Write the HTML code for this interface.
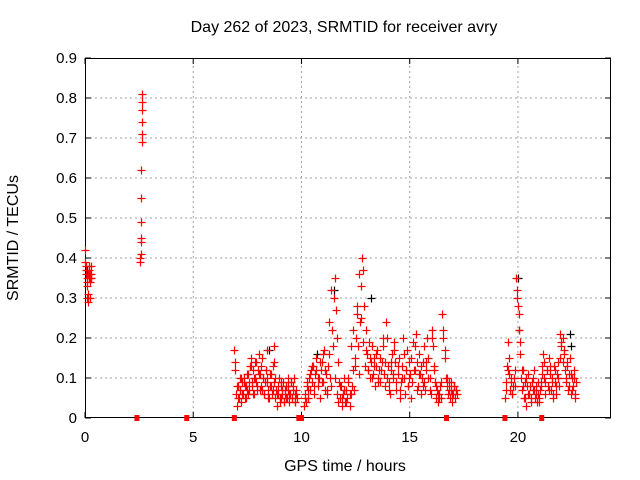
<!DOCTYPE html>
<html><head><meta charset="utf-8">
<style>
body{margin:0;background:#fff;}
svg{display:block;font-family:"Liberation Sans",sans-serif;}
</style></head>
<body>
<svg id="chart" width="640" height="480" viewBox="0 0 640 480">
<text x="344" y="32" font-size="16" text-anchor="middle">Day 262 of 2023, SRMTID for receiver avry</text>
<text x="345" y="471" font-size="16" text-anchor="middle">GPS time / hours</text>
<text transform="translate(18,238) rotate(-90)" font-size="16" text-anchor="middle">SRMTID / TECUs</text>
<g id="grid"></g>
<g id="axes"></g>
<g id="marks"></g>
</svg>
<script>
const xTicks=[0,5,10,15,20];
const yTicks=[0,0.1,0.2,0.3,0.4,0.5,0.6,0.7,0.8,0.9];
const yTickLabels=["0","0.1","0.2","0.3","0.4","0.5","0.6","0.7","0.8","0.9"];
const segStarts=[0.0,2.55,6.9,10.1,19.4,6.95,10.15,19.45];
const segEnds=[0.3,2.65,9.8,17.2,22.7,9.75,17.15,22.65];
const segA=[0.42,0.39,0.38,0.37,0.36,0.35,0.34,0.33,0.30,0.29,0.31,0.36,0.38,0.35,0.37,0.36,0.34,0.30,0.35,0.36,0.38,0.35];
const segB=[0.39,0.40,0.41,0.44,0.45,0.49,0.55,0.62,0.69,0.71,0.74,0.77,0.79,0.81];
const segC=[0.17,0.14,0.06,0.03,0.08,0.05,0.1,0.07,0.04,0.09,0.06,0.1,0.08,0.05,0.11,0.07,0.06,0.09,0.13,0.15,0.08,0.12,0.06,0.1,0.14,0.09,0.07,0.12,0.16,0.11,0.08,0.13,0.07,0.1,0.06,0.09,0.12,0.17,0.1,0.07,0.05,0.11,0.08,0.06,0.13,0.18,0.09,0.05,0.07,0.03,0.06,0.1,0.04,0.08,0.05,0.07,0.09,0.04,0.06,0.08,0.05,0.1,0.07,0.04,0.06,0.09,0.05,0.08,0.1,0.06,0.04,0.07,0.05];
const segD=[0.03,0.06,0.04,0.08,0.05,0.1,0.07,0.12,0.09,0.13,0.06,0.11,0.15,0.08,0.1,0.05,0.12,0.14,0.09,0.17,0.07,0.11,0.06,0.13,0.16,0.1,0.08,0.22,0.3,0.35,0.27,0.2,0.14,0.09,0.05,0.08,0.03,0.06,0.1,0.04,0.07,0.05,0.09,0.03,0.06,0.08,0.12,0.07,0.15,0.2,0.26,0.18,0.11,0.24,0.33,0.4,0.37,0.28,0.22,0.16,0.12,0.19,0.1,0.14,0.18,0.11,0.15,0.08,0.13,0.17,0.1,0.12,0.09,0.14,0.18,0.11,0.08,0.24,0.2,0.13,0.09,0.06,0.12,0.16,0.1,0.19,0.14,0.07,0.11,0.15,0.05,0.09,0.13,0.2,0.1,0.06,0.12,0.17,0.08,0.14,0.11,0.05,0.09,0.12,0.18,0.21,0.14,0.08,0.16,0.11,0.06,0.1,0.14,0.09,0.07,0.12,0.2,0.15,0.1,0.06,0.22,0.18,0.13,0.09,0.05,0.07,0.04,0.06,0.08,0.05,0.26,0.2,0.15,0.1,0.08,0.06,0.09,0.05,0.07,0.04,0.06,0.08,0.05,0.07,0.06];
const segE=[0.05,0.09,0.13,0.19,0.11,0.07,0.1,0.06,0.08,0.12,0.35,0.32,0.28,0.22,0.16,0.1,0.07,0.12,0.05,0.09,0.03,0.08,0.11,0.06,0.04,0.09,0.07,0.12,0.05,0.08,0.04,0.06,0.05,0.07,0.09,0.13,0.16,0.1,0.06,0.12,0.08,0.15,0.11,0.07,0.1,0.05,0.13,0.09,0.06,0.11,0.14,0.08,0.21,0.18,0.2,0.16,0.12,0.09,0.14,0.07,0.11,0.15,0.06,0.1,0.08,0.12,0.05,0.09];
const segC2=[0.12,0.08,0.05,0.07,0.1,0.06,0.09,0.05,0.08,0.11,0.07,0.13,0.09,0.06,0.1,0.14,0.08,0.11,0.07,0.15,0.1,0.06,0.12,0.09,0.05,0.08,0.11,0.07,0.14,0.1,0.06,0.08,0.05,0.09,0.06,0.04,0.07,0.05,0.08,0.06,0.09,0.05,0.07,0.04,0.06];
const segD2=[0.05,0.09,0.07,0.11,0.13,0.08,0.12,0.1,0.14,0.09,0.16,0.12,0.07,0.24,0.32,0.18,0.1,0.06,0.04,0.08,0.05,0.07,0.04,0.1,0.06,0.18,0.22,0.13,0.28,0.36,0.25,0.19,0.13,0.17,0.12,0.15,0.1,0.13,0.16,0.09,0.15,0.12,0.2,0.14,0.1,0.07,0.14,0.11,0.17,0.09,0.13,0.07,0.1,0.16,0.12,0.08,0.1,0.15,0.19,0.12,0.07,0.11,0.13,0.08,0.18,0.14,0.1,0.07,0.2,0.12,0.08,0.06,0.05,0.09,0.22,0.17,0.1,0.07,0.09,0.06,0.08,0.07];
const segE2=[0.07,0.12,0.15,0.09,0.06,0.1,0.08,0.3,0.26,0.19,0.12,0.08,0.05,0.1,0.06,0.08,0.05,0.1,0.07,0.06,0.09,0.04,0.08,0.11,0.14,0.09,0.12,0.07,0.13,0.09,0.06,0.12,0.08,0.1,0.15,0.19,0.14,0.17,0.1,0.13,0.08,0.11,0.07,0.1,0.06];
const blackTimes=[0.1,8.5,10.7,11.5,13.2,20.0,20.05,22.4,22.45];
const blackValues=[0.37,0.17,0.16,0.32,0.3,0.35,0.22,0.21,0.18];
const gapTimes=[2.4,4.7,6.9,9.88,10.0,16.7,19.4,21.1];

const X0=85,X1=611,Y0=418,Y1=58,XMAX=24.3,YMAX=0.9;
const xs=t=>X0+(X1-X0)*t/XMAX;
const ys=v=>Y0-(Y0-Y1)*v/YMAX;
const NS="http://www.w3.org/2000/svg";
function mk(tag,attrs,parent){const e=document.createElementNS(NS,tag);for(const k in attrs)e.setAttribute(k,attrs[k]);parent.appendChild(e);return e;}
const grid=document.getElementById('grid'),axes=document.getElementById('axes'),marks=document.getElementById('marks');
yTicks.forEach((v,i)=>{
  if(i>0&&i<yTicks.length-1){const g=mk('line',{x1:X0,x2:X1,y1:ys(v),y2:ys(v),stroke:'#a0a0a0','stroke-dasharray':'2,3'},grid);
  
  }
  const t=mk('text',{x:X0-8,y:ys(v)+5,'font-size':15,'text-anchor':'end'},axes);t.textContent=yTickLabels[i];
  
  
  mk('line',{x1:X0,x2:X0+6,y1:ys(v),y2:ys(v),stroke:'#000'},axes);
  mk('line',{x1:X1,x2:X1-6,y1:ys(v),y2:ys(v),stroke:'#000'},axes);
});
xTicks.forEach(v=>{
  if(v>0){const g=mk('line',{x1:xs(v),x2:xs(v),y1:Y0,y2:Y1,stroke:'#a0a0a0','stroke-dasharray':'2,3'},grid);
  
  }
  const t=mk('text',{x:xs(v),y:Y0+24,'font-size':15,'text-anchor':'middle'},axes);t.textContent=String(v);
  
  
  mk('line',{x1:xs(v),x2:xs(v),y1:Y0,y2:Y0-6,stroke:'#000'},axes);
  mk('line',{x1:xs(v),x2:xs(v),y1:Y1,y2:Y1+6,stroke:'#000'},axes);
});
const fr=mk('rect',{x:X0+0.5,y:Y1+0.5,width:X1-X0-1,height:Y0-Y1-1,fill:'none',stroke:'#000'},axes);


function plus(t,v,col,name){
  const x=Math.round(xs(t))+0.5,y=Math.round(ys(v))+0.5;
  const p=mk('path',{d:`M${x-4},${y}H${x+4}M${x},${y-4}V${y+4}`,stroke:col,'stroke-width':1.2},marks);
  
  
}
blackTimes.forEach((t,i)=>plus(t,blackValues[i],'#000','black-point'));
[segA,segB,segC,segD,segE,segC2,segD2,segE2].forEach((seg,si)=>{
  const step=(segEnds[si]-segStarts[si])/(seg.length-1);
  seg.forEach((v,i)=>plus(segStarts[si]+i*step,v,'#f00','srmtid-point'));
});
gapTimes.forEach(t=>{
  const r=mk('rect',{x:xs(t)-2.5,y:Y0-3,width:5,height:6,fill:'#f00'},marks);
  
  
});
</script>
</body></html>
